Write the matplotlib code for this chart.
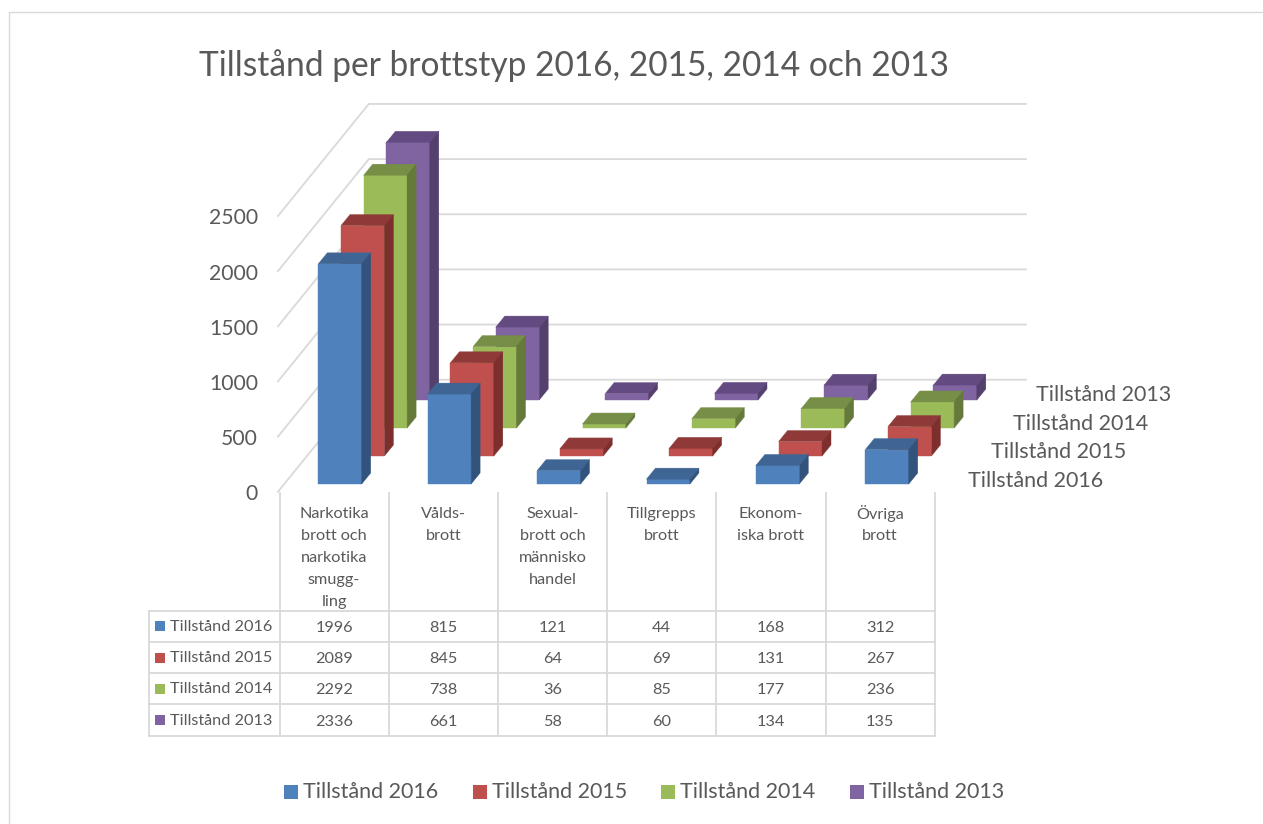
"""Tillstånd per brottstyp: Excel-style 3D column chart with data table."""
import matplotlib; matplotlib.use("Agg")
import matplotlib.pyplot as plt
from matplotlib.patches import Polygon, Rectangle

plt.rcParams["font.family"] = ["Lato", "DejaVu Sans"]

TITLE = "Tillstånd per brottstyp 2016, 2015, 2014 och 2013"
SERIES = ["Tillstånd 2016", "Tillstånd 2015", "Tillstånd 2014", "Tillstånd 2013"]
CATEGORIES = ["Narkotika\nbrott och\nnarkotika\nsmugg-\nling", "Vålds-\nbrott",
              "Sexual-\nbrott och\nmännisko\nhandel", "Tillgrepps\nbrott",
              "Ekonom-\niska brott", "Övriga\nbrott"]
V2016 = [1996, 815, 121, 44, 168, 312]
V2015 = [2089, 845, 64, 69, 131, 267]
V2014 = [2292, 738, 36, 85, 177, 236]
V2013 = [2336, 661, 58, 60, 134, 135]
YTICKS = [0, 500, 1000, 1500, 2000, 2500]
COLORS = ["#4F81BD", "#C0504D", "#9BBB59", "#8064A2"]
TOPS = ["#3E6594", "#8F3A38", "#768E45", "#634A80"]
SIDES = ["#32547C", "#7C2F2D", "#65793A", "#54406D"]
TXT, GRID = "#595959", "#D9D9D9"
VALUES = [V2016, V2015, V2014, V2013]

# projection, all in picture pixels
SCALE = 0.1103          # px per unit
CAT_W = 109.4
SER_DX, SER_DY = 22.7, -28.0
BAR_X0, BAR_Y0, BAR_W = 318.3, 484.0, 43.4
BAR_DX, BAR_DY = 9.0, -11.0
FLOOR_X, FLOOR_Y = 278.0, 491.7
WALL_R = 1026

fig = plt.figure(figsize=(12.63, 8.24), dpi=100)
ax = fig.add_axes([0, 0, 1, 1])
ax.set_xlim(0, 1263); ax.set_ylim(824, 0); ax.axis("off")

# outer chart frame
ax.plot([8.5, 8.5, 1263], [824, 12, 12], color=GRID, lw=1.0)

# gridlines on the side wall and the back wall
for t in YTICKS:
    y = FLOOR_Y - t * SCALE
    xb, yb = FLOOR_X + 4 * SER_DX, y + 4 * SER_DY
    ax.plot([FLOOR_X, xb, WALL_R], [y, yb, yb], color=GRID, lw=1.3, zorder=1)
    ax.text(258, y + 2.5, str(t), ha="right", va="center", fontsize=15.2, color=TXT)


def bar(i, s, v):
    x = BAR_X0 + CAT_W * i + SER_DX * s
    y0 = BAR_Y0 + SER_DY * s
    y1 = y0 - v * SCALE
    r = x + BAR_W
    z = 2 + (3 - s) * 10 + i * 0.1
    ax.add_patch(Rectangle((x, y1), BAR_W, y0 - y1, fc=COLORS[s], ec=COLORS[s], lw=0.3, zorder=z))
    ax.add_patch(Polygon([(x, y1), (x + BAR_DX, y1 + BAR_DY), (r + BAR_DX, y1 + BAR_DY), (r, y1)],
                         fc=TOPS[s], ec=TOPS[s], lw=0.3, zorder=z))
    ax.add_patch(Polygon([(r, y1), (r + BAR_DX, y1 + BAR_DY), (r + BAR_DX, y0 + BAR_DY), (r, y0)],
                         fc=SIDES[s], ec=SIDES[s], lw=0.3, zorder=z))


for s, vals in enumerate(VALUES):
    for i, v in enumerate(vals):
        bar(i, s, v)

# series names along the depth axis
for s, name in enumerate(SERIES):
    ax.text(968 + SER_DX * s, 481 + SER_DY * s * 1.02, name, ha="left", va="center",
            fontsize=15.5, color=TXT)

# data table
COL0, COL_W = 279.5, 109.2
ROWS = [610.7, 641.9, 673.2, 704.4, 735.7]
for i in range(len(CATEGORIES) + 1):
    x = COL0 + COL_W * i
    ax.plot([x, x], [492.5, ROWS[-1]], color=GRID, lw=1.3, zorder=1)
ax.plot([148.5, 148.5], [ROWS[0], ROWS[-1]], color=GRID, lw=1.3, zorder=1)
for y in ROWS:
    ax.plot([148.5, COL0 + COL_W * len(CATEGORIES)], [y, y], color=GRID, lw=1.3, zorder=1)

for i, c in enumerate(CATEGORIES):
    xc = COL0 + COL_W * (i + 0.5)
    for n, line in enumerate(c.split("\n")):
        ax.text(xc, 514 + 22 * n, line, ha="center", va="center", fontsize=11.7, color=TXT)

for s, (name, vals) in enumerate(zip(SERIES, VALUES)):
    yc = (ROWS[s] + ROWS[s + 1]) / 2
    ax.add_patch(Rectangle((155, yc - 5), 10, 10, fc=COLORS[s], ec="none"))
    ax.text(170, yc + 0.5, name, ha="left", va="center", fontsize=11.7, color=TXT)
    for i, v in enumerate(vals):
        ax.text(COL0 + COL_W * (i + 0.5), yc + 1.5, str(v), ha="center", va="center", fontsize=11.7, color=TXT)

# legend
for s, (name, x) in enumerate(zip(SERIES, [284, 472.5, 661, 850])):
    ax.add_patch(Rectangle((x, 784.5), 14, 14, fc=COLORS[s], ec="none"))
    ax.text(x + 19, 792.5, name, ha="left", va="center", fontsize=15.5, color=TXT)

ax.text(199, 65.5, TITLE, ha="left", va="center", fontsize=24.15, color=TXT)

fig.savefig("out.png", dpi=100)
